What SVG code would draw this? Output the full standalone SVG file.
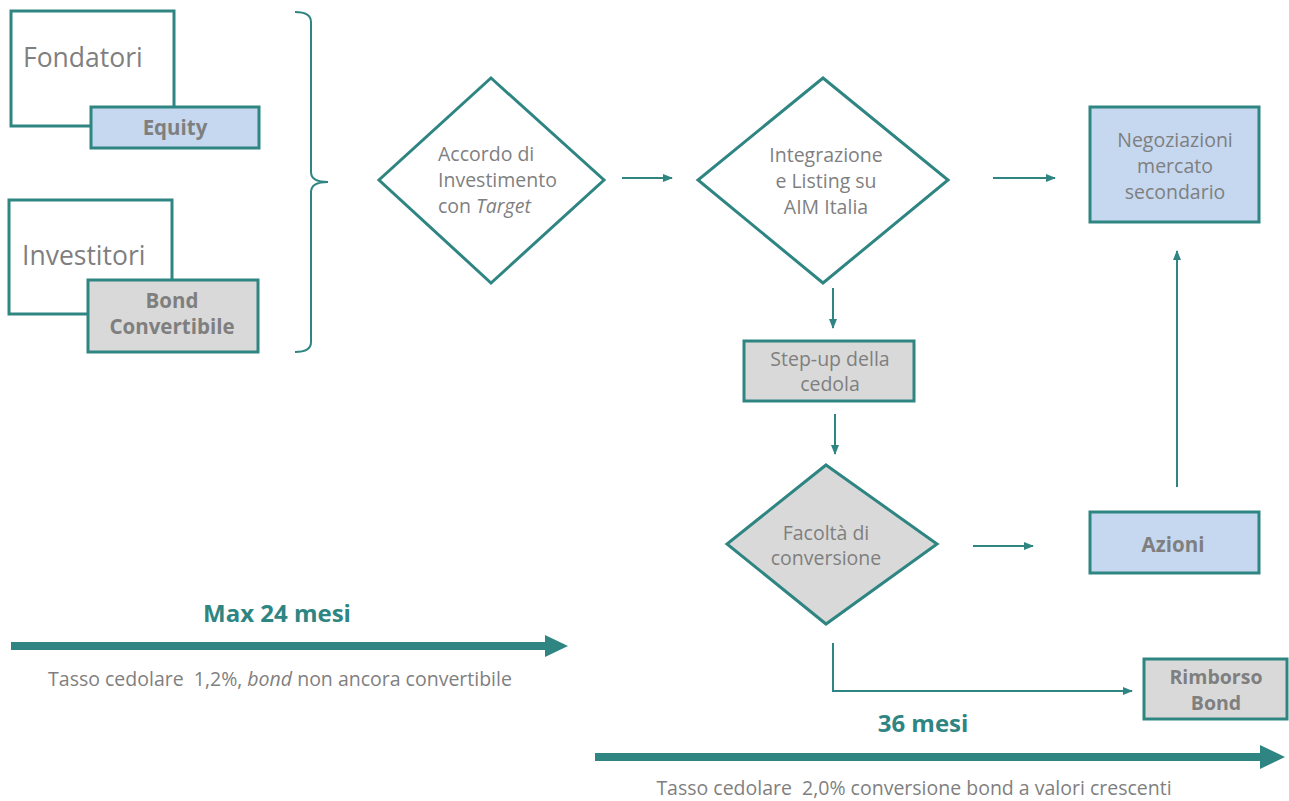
<svg xmlns="http://www.w3.org/2000/svg" width="1289" height="801" viewBox="0 0 1289 801">
<style>
.box{fill:#fff;stroke:#2e8582;stroke-width:3}
.blue{fill:#c5d8ef;stroke:#2e8582;stroke-width:3}
.gray{fill:#d9d9d9;stroke:#2e8582;stroke-width:3}
.t{font-family:"Open Sans","Noto Sans",sans-serif;fill:#7f7f7f;text-anchor:middle}
.big{font-size:26.5px;text-anchor:start}
.n{font-size:19.5px}
.l{text-anchor:start}
.b{font-size:20.5px;font-weight:bold}
.h{font-family:"Open Sans","Noto Sans",sans-serif;font-size:24px;font-weight:bold;fill:#2e8582;text-anchor:middle}
.c{stroke:#2e8582;stroke-width:2;fill:none}
.thick{stroke:#2e8582;stroke-width:8;fill:none}
</style>
<defs>
<marker id="ah" markerWidth="10" markerHeight="10" refX="9" refY="5" orient="auto" markerUnits="userSpaceOnUse">
<path d="M0,1 L10,5 L0,9 Z" fill="#2e8582"/>
</marker>
</defs>
<g id="fondatori">
<rect class="box" x="11" y="11" width="163" height="115"/>
<text class="t big" x="23" y="67">Fondatori</text>
<rect class="blue" x="91" y="107" width="168" height="41"/>
<text class="t b" x="175" y="135">Equity</text>
</g>
<g id="investitori">
<rect class="box" x="9" y="200" width="163" height="114"/>
<text class="t big" x="22" y="265">Investitori</text>
<rect class="gray" x="88" y="280" width="170" height="72"/>
<text class="t b" x="172" y="308">Bond</text>
<text class="t b" x="172" y="334">Convertibile</text>
</g>
<g id="brace">
<path class="c" d="M295,12 Q311,12 311,22 L311,172 Q311,182 328,182 Q311,182 311,192 L311,342 Q311,352 295,352"/>
</g>
<g id="accordo">
<polygon class="box" points="491,78 604,180 491,283 379,180"/>
<text class="t n l" x="438" y="161">Accordo di</text>
<text class="t n l" x="438" y="187">Investimento</text>
<text class="t n l" x="438" y="213">con <tspan font-style="italic">Target</tspan></text>
</g>
<g id="integrazione">
<polygon class="box" points="823,78 948,180 823,283 698,180"/>
<text class="t n" x="826" y="162">Integrazione</text>
<text class="t n" x="826" y="188">e Listing su</text>
<text class="t n" x="826" y="214">AIM Italia</text>
</g>
<g id="negoziazioni">
<rect class="blue" x="1090" y="107" width="169" height="115"/>
<text class="t n" x="1175" y="147">Negoziazioni</text>
<text class="t n" x="1175" y="173">mercato</text>
<text class="t n" x="1175" y="199">secondario</text>
</g>
<g id="stepup">
<rect class="gray" x="744" y="341" width="170" height="60"/>
<text class="t n" x="830" y="366">Step-up della</text>
<text class="t n" x="830" y="391">cedola</text>
</g>
<g id="facolta">
<polygon class="gray" points="826,465 937,544 826,624 727,544"/>
<text class="t n" x="826" y="540">Facoltà di</text>
<text class="t n" x="826" y="565">conversione</text>
</g>
<g id="azioni">
<rect class="blue" x="1090" y="512" width="169" height="61"/>
<text class="t b" x="1173" y="552">Azioni</text>
</g>
<g id="rimborso">
<rect class="gray" x="1144" y="659" width="143" height="60"/>
<text class="t b" x="1216" y="684" style="font-size:19.5px">Rimborso</text>
<text class="t b" x="1216" y="710" style="font-size:19.5px">Bond</text>
</g>
<g id="connectors">
<line class="c" x1="622" y1="178" x2="672" y2="178" marker-end="url(#ah)"/>
<line class="c" x1="993" y1="178" x2="1055" y2="178" marker-end="url(#ah)"/>
<line class="c" x1="833" y1="288" x2="833" y2="328" marker-end="url(#ah)"/>
<line class="c" x1="835" y1="414" x2="835" y2="454" marker-end="url(#ah)"/>
<line class="c" x1="973" y1="546" x2="1033" y2="546" marker-end="url(#ah)"/>
<line class="c" x1="1177" y1="487" x2="1177" y2="251" marker-end="url(#ah)"/>
<polyline class="c" stroke-width="1.5" points="833,643 833,691 1132,691" marker-end="url(#ah)"/>
</g>
<g id="timeline1">
<text class="h" x="277" y="622">Max 24 mesi</text>
<line class="thick" x1="11" y1="646" x2="550" y2="646"/>
<path d="M545,635 L568,646 L545,657 Z" fill="#2e8582"/>
<text class="t n" x="280" y="686" xml:space="preserve">Tasso cedolare  1,2%, <tspan font-style="italic">bond</tspan> non ancora convertibile</text>
</g>
<g id="timeline2">
<text class="h" x="923" y="732">36 mesi</text>
<line class="thick" x1="595" y1="757" x2="1265" y2="757"/>
<path d="M1260,745 L1285,757 L1260,769 Z" fill="#2e8582"/>
<text class="t n" x="914" y="795" xml:space="preserve">Tasso cedolare  2,0% conversione bond a valori crescenti</text>
</g>
</svg>
